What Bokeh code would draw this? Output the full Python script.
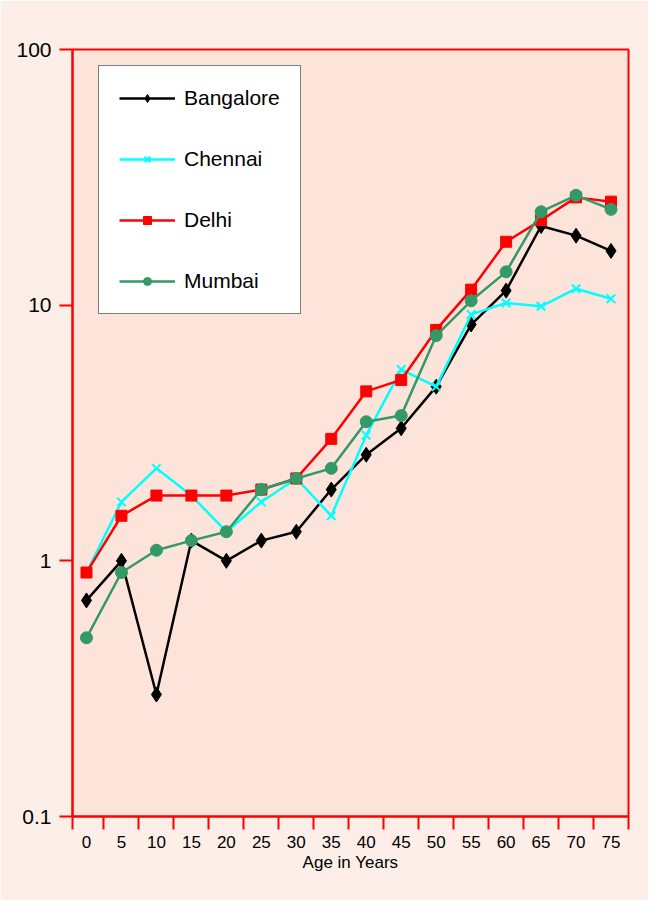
from bokeh.plotting import figure
from bokeh.models import FixedTicker, Range1d, Legend, LegendItem
from bokeh.embed import file_html
from bokeh.resources import INLINE

# ---- data ----
ages = [0, 5, 10, 15, 20, 25, 30, 35, 40, 45, 50, 55, 60, 65, 70, 75]
age_labels = [str(a) for a in ages]
bangalore = [0.70, 1.0, 0.30, 1.2, 1.0, 1.2, 1.3, 1.9, 2.6, 3.3, 4.8, 8.4, 11.4, 20.4, 18.7, 16.3]
chennai   = [0.90, 1.7, 2.3, 1.8, 1.3, 1.7, 2.1, 1.5, 3.1, 5.6, 4.8, 9.2, 10.2, 9.9, 11.6, 10.6]
delhi     = [0.90, 1.5, 1.8, 1.8, 1.8, 1.9, 2.1, 3.0, 4.6, 5.1, 8.0, 11.5, 17.7, 21.5, 26.4, 25.4]
mumbai    = [0.50, 0.9, 1.1, 1.2, 1.3, 1.9, 2.1, 2.3, 3.5, 3.7, 7.6, 10.4, 13.5, 23.2, 26.9, 23.7]
y_ticks = [0.1, 1, 10, 100]
y_tick_labels = ["0.1", "1", "10", "100"]
x_title = "Age in Years"

FONT = "Liberation Sans"
idx = list(range(len(ages)))

p = figure(width=648, height=900, title=None,
           x_range=Range1d(-0.4, 15.5), y_range=Range1d(0.1, 100),
           y_axis_type="log", output_backend="svg", toolbar_location=None,
           min_border_left=72, min_border_right=20, min_border_top=49, min_border_bottom=84)

p.background_fill_color = "#fde4da"
p.border_fill_color = "#fdeee7"
p.outline_line_color = "red"
p.outline_line_width = 2
p.grid.visible = False

# x axis
xa = p.xaxis[0]
xa.ticker = FixedTicker(ticks=idx, minor_ticks=[-0.4] + [i + 0.5 for i in range(15)] + [15.5])
xa.major_label_overrides = {i: lab for i, lab in zip(idx, age_labels)}
xa.major_tick_out = 0
xa.major_tick_in = 0
xa.major_tick_line_color = None
xa.minor_tick_out = 13
xa.minor_tick_in = 0
xa.minor_tick_line_color = "red"
xa.minor_tick_line_width = 2
xa.axis_line_color = "red"
xa.axis_line_width = 2
xa.major_label_standoff = 6
xa.major_label_text_font = FONT
xa.major_label_text_font_size = "17px"
xa.major_label_text_color = "black"
xa.axis_label = x_title
xa.axis_label_text_font = FONT
xa.axis_label_text_font_size = "17px"
xa.axis_label_text_font_style = "normal"
xa.axis_label_text_color = "black"
xa.axis_label_standoff = 2

# y axis
ya = p.yaxis[0]
ya.ticker = FixedTicker(ticks=y_ticks, minor_ticks=[])
ya.major_label_overrides = {t: lab for t, lab in zip(y_ticks, y_tick_labels)}
ya.major_tick_out = 13
ya.major_tick_in = 0
ya.major_tick_line_color = "red"
ya.major_tick_line_width = 2
ya.minor_tick_line_color = None
ya.axis_line_color = "red"
ya.axis_line_width = 2
ya.major_label_standoff = 8
ya.major_label_text_font = FONT
ya.major_label_text_font_size = "21px"
ya.major_label_text_color = "black"

series = [
    ("Bangalore", bangalore, "black", "diamond", 15, 1),
    ("Chennai", chennai, "#00ffff", "x", 12, 2),
    ("Delhi", delhi, "red", "square", 11, 1),
    ("Mumbai", mumbai, "#339966", "circle", 12, 1),
]
items = []
for name, vals, col, mk, sz, lw in series:
    ln = p.line(idx, vals, line_color=col, line_width=2.5)
    sc = p.scatter(idx, vals, marker=mk, size=sz, fill_color=col, line_color=col, line_width=lw)
    items.append(LegendItem(label=name, renderers=[ln, sc]))

legend = Legend(items=items, location=(26, 502), padding=20,
                spacing=37, glyph_width=56, glyph_height=20, label_height=20,
                label_standoff=9, label_text_font=FONT, label_text_font_size="21px",
                label_text_color="black", border_line_color="black", border_line_width=1.5,
                background_fill_color="white", background_fill_alpha=1.0)
p.add_layout(legend)

open("out.html", "w").write(file_html(p, INLINE))
